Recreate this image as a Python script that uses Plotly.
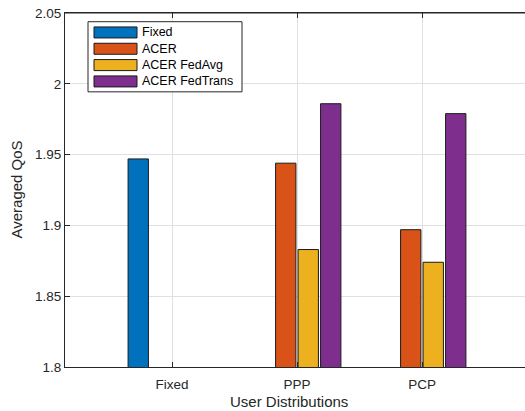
import plotly.graph_objects as go

categories = ["Fixed", "PPP", "PCP"]
series_names = ["Fixed", "ACER", "ACER FedAvg", "ACER FedTrans"]
fixed_vals = [1.947, None, None]
acer_vals = [None, 1.944, 1.897]
fedavg_vals = [None, 1.883, 1.874]
fedtrans_vals = [None, 1.986, 1.979]
y_ticks = [1.8, 1.85, 1.9, 1.95, 2.0, 2.05]
y_tick_labels = ["1.8", "1.85", "1.9", "1.95", "2", "2.05"]

colors = ["#0072BD", "#D95319", "#EDB120", "#7E2F8E"]
all_vals = [fixed_vals, acer_vals, fedavg_vals, fedtrans_vals]

# body margin removed by post_script; the axes box runs slightly past the
# window's right edge, as in the (cropped) reference
W, H = 528, 411
PLOT_LEFT, PLOT_RIGHT, PLOT_TOP, PLOT_BOTTOM = 65, 528, 13.3, 366.7  # window px
L = PLOT_LEFT
R = W - PLOT_RIGHT
T = PLOT_TOP
B = H - PLOT_BOTTOM
FONT = "Liberation Sans, Arial, Helvetica, sans-serif"
AX = "#262626"

xpos = list(range(1, len(categories) + 1))

fig = go.Figure()
for name, vals, col in zip(series_names, all_vals, colors):
    fig.add_trace(go.Bar(
        x=xpos, y=vals, name=name,
        marker=dict(color=col, line=dict(color="#1a1a1a", width=1)),
        showlegend=False,
    ))

pw = W - L - R
ph = H - T - B
def px2x(px):
    return (px - L) / pw
def py2y(py):
    return (H - B - py) / ph

shapes = []
annotations = []
# top frame line
shapes.append(dict(type="line", xref="paper", yref="paper", x0=0, x1=1, y0=1, y1=1,
                   line=dict(color=AX, width=1), layer="above"))
shapes.append(dict(type="rect", xref="paper", yref="paper",
                   x0=px2x(88), x1=px2x(242), y0=py2y(92), y1=py2y(22),
                   fillcolor="white", line=dict(color=AX, width=1), layer="above"))
row0, drow = 32.7, 16.3
for i, (name, col) in enumerate(zip(series_names, colors)):
    cy = row0 + i * drow
    shapes.append(dict(type="rect", xref="paper", yref="paper",
                       x0=px2x(94), x1=px2x(137), y0=py2y(cy + 5.5), y1=py2y(cy - 5.5),
                       fillcolor=col, line=dict(color="#1a1a1a", width=1), layer="above"))
    annotations.append(dict(xref="paper", yref="paper", x=px2x(139.5), y=py2y(cy),
                            text=name, showarrow=False, xanchor="left", yanchor="middle",
                            font=dict(family=FONT, size=12.5, color="black")))

annotations.append(dict(xref="paper", yref="paper", x=px2x(288.5), y=py2y(401),
                        text="User Distributions", showarrow=False,
                        xanchor="center", yanchor="middle",
                        font=dict(family=FONT, size=15, color=AX)))
annotations.append(dict(xref="paper", yref="paper", x=px2x(15.5), y=py2y(190),
                        text="Averaged QoS", showarrow=False, textangle=-90,
                        xanchor="center", yanchor="middle",
                        font=dict(family=FONT, size=15, color=AX)))

fig.update_layout(
    width=W, height=H,
    margin=dict(l=L, r=R, t=T, b=B, pad=0, autoexpand=False),
    paper_bgcolor="white", plot_bgcolor="white",
    barmode="group", bargap=0.28, bargroupgap=0.097,
    font=dict(family=FONT, size=13.5, color=AX),
    shapes=shapes, annotations=annotations,
    xaxis=dict(
        range=[0.144, 3.848], tickvals=xpos, ticktext=categories,
        showgrid=True, gridcolor="#e0e0e0", gridwidth=1,
        showline=True, linecolor=AX, linewidth=1, mirror="ticks",
        ticks="inside", ticklen=5, tickcolor=AX,
        tickfont=dict(family=FONT, size=13.5, color=AX),
        ticklabelstandoff=5,
        automargin=False, zeroline=False,
    ),
    yaxis=dict(
        range=[1.8, 2.0501], tickvals=y_ticks, ticktext=y_tick_labels,
        showgrid=True, gridcolor="#e0e0e0", gridwidth=1,
        showline=True, linecolor=AX, linewidth=1, mirror=False,
        ticks="inside", ticklen=5, tickcolor=AX,
        tickfont=dict(family=FONT, size=13.5, color=AX),
        ticklabeloverflow="allow",
        automargin=False, zeroline=False,
    ),
)

fig.write_html("out.html", config={"displayModeBar": False},
               post_script="document.body.style.margin='0px';document.body.style.overflow='hidden';")
